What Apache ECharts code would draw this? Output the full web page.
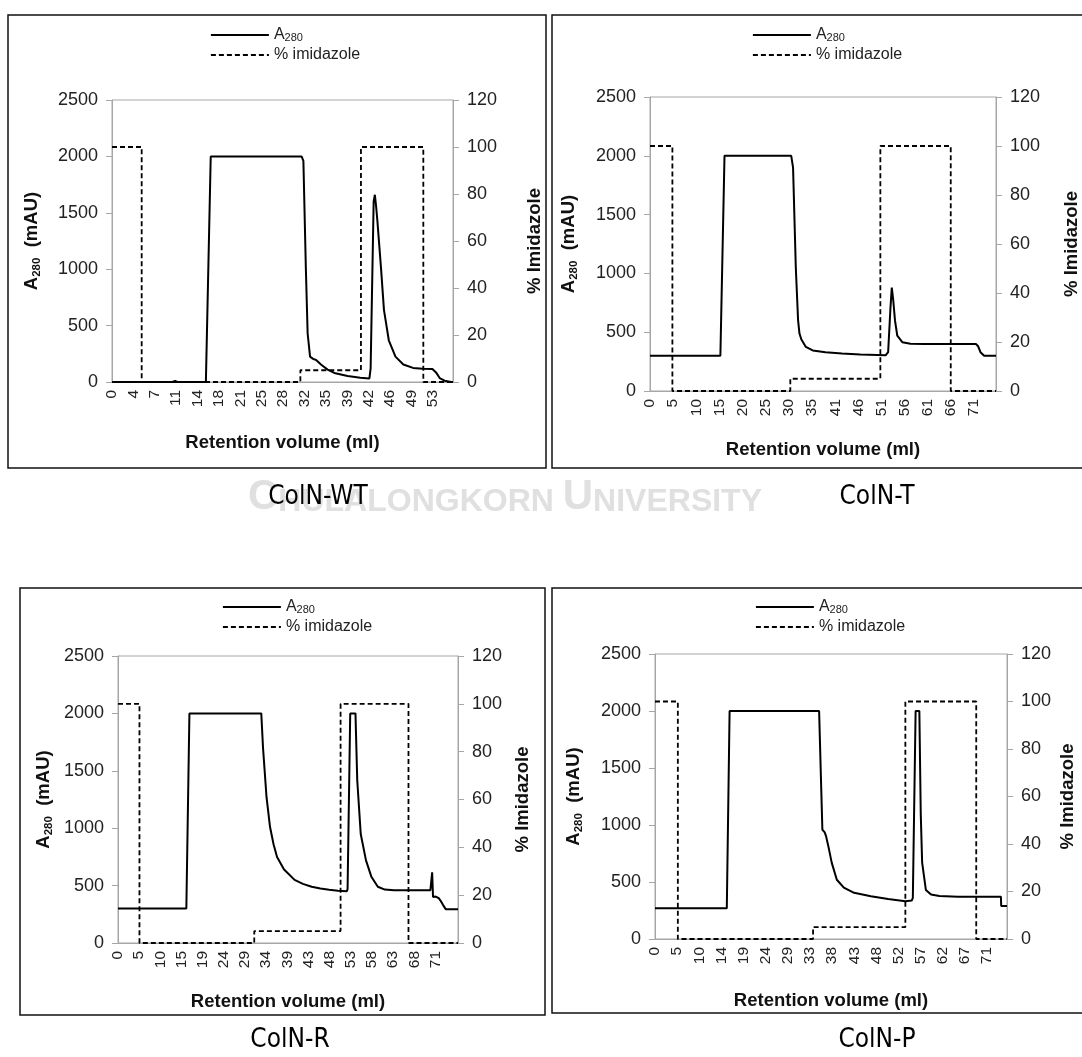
<!DOCTYPE html>
<html>
<head>
<meta charset="utf-8">
<script src="https://cdn.jsdelivr.net/npm/echarts@6/dist/echarts.min.js"></script>
<style>
html, body { margin: 0; padding: 0; background: #fff; }
#chart { width: 1082px; height: 1057px; }
</style>
</head>
<body>
<div id="chart"></div>
<script>
// panel captions
const panelNames = ['ColN-WT', 'ColN-T', 'ColN-R', 'ColN-P'];

// x tick labels as printed (evenly spaced category labels)
const ticksWT = ['0','4','7','11','14','18','21','25','28','32','35','39','42','46','49','53'];
const ticksT  = ['0','5','10','15','20','25','30','35','41','46','51','56','61','66','71'];
const ticksR  = ['0','5','10','15','19','24','29','34','39','43','48','53','58','63','68','71'];
const ticksP  = ['0','5','10','14','19','24','29','33','38','43','48','52','57','62','67','71'];

// A280 traces, [ml, mAU]
const a280WT = [[0,0],[10,0],[10.4,10],[10.8,0],[15.5,0],[16.3,2000],[31.3,2000],[31.6,1960],[32.0,1020],
  [32.3,430],[32.7,225],[33.2,205],[33.7,195],[34.5,155],[35.6,110],[36.7,80],[38.9,53],[41.0,38],[42.5,32],
  [42.7,120],[43.2,1600],[43.4,1660],[43.6,1560],[43.8,1440],[44.4,1020],[44.9,640],[45.7,370],[46.8,225],
  [48.1,155],[49.7,125],[51.3,118],[52.9,115],[53.5,85],[54.1,35],[54.9,12],[56.0,0],[56.3,0]];
const a280T = [[0,300],[15.4,300],[16.3,2000],[30.9,2000],[31.3,1900],[31.9,1050],[32.4,600],[32.7,490],
  [33.1,440],[34.1,375],[35.6,345],[38.4,330],[42,318],[46,310],[51.6,305],[52.1,330],[52.6,700],[52.9,880],
  [53.2,780],[53.6,600],[54.1,470],[55.2,415],[57.0,402],[60,400],[65,400],[71.3,400],[71.8,380],[72.3,330],
  [73.1,300],[75.7,300]];
const a280R = [[0,300],[10.2,300],[10.5,308],[10.8,300],[15.6,300],[16.3,2000],[32.7,2000],[33.1,1700],
  [33.9,1270],[34.7,1010],[35.5,860],[36.3,750],[37.9,640],[40.3,550],[42.2,515],[44.2,490],[46.2,475],
  [48.2,463],[50.2,455],[52.2,450],[52.4,470],[53.0,2000],[54.2,2000],[54.6,1420],[55.4,950],[56.6,720],
  [57.8,580],[59.3,490],[60.9,465],[63,460],[66,460],[71.3,460],[71.5,470],[71.7,615],[71.9,400],[72.5,405],
  [73.2,390],[73.6,370],[74.2,330],[74.8,295],[77.6,295]];
const a280P = [[0,270],[15.4,270],[16.0,2000],[35.2,2000],[35.6,1400],[35.9,960],[36.4,935],[36.7,900],
  [37.2,810],[37.9,670],[39.0,520],[40.5,450],[42.7,405],[46.3,375],[50.0,350],[53.7,332],[55.1,338],
  [55.3,360],[55.9,2000],[56.7,2000],[57.0,1100],[57.3,670],[58.1,430],[59.2,390],[61.0,378],[65,370],
  [74.2,370],[74.25,290],[75.5,290]];

// % imidazole step gradient, [ml, %]
const imidWT = [[0,100],[4.9,100],[4.9,0],[31.1,0],[31.1,5],[41.1,5],[41.1,100],[51.4,100],[51.4,0],[56.3,0]];
const imidT  = [[0,100],[4.9,100],[4.9,0],[30.7,0],[30.7,5],[50.4,5],[50.4,100],[65.8,100],[65.8,0],[75.7,0]];
const imidR  = [[0,100],[4.9,100],[4.9,0],[31.1,0],[31.1,5],[50.8,5],[50.8,100],[66.3,100],[66.3,0],[77.6,0]];
const imidP  = [[0,100],[4.9,100],[4.9,0],[33.9,0],[33.9,5],[53.7,5],[53.7,100],[68.9,100],[68.9,0],[75.5,0]];

const ticks = [ticksWT, ticksT, ticksR, ticksP];
const a280 = [a280WT, a280T, a280R, a280P];
const imid = [imidWT, imidT, imidR, imidP];

// layout of each panel (pixels)
const layout = [
  { box: [8, 15, 538, 453],   grid: [112, 100, 341, 282], xMax: 56.3, step: 53 / 15, legend: [210, 26],  xGap: 51, yGap: 69, ryGap: 72, label: [318, 497] },
  { box: [552, 15, 540, 453], grid: [650, 97, 353, 294],  xMax: 75.7, step: 5.066,   legend: [752, 26],  xGap: 49, yGap: 70, ryGap: 66, label: [877, 497] },
  { box: [20, 588, 525, 427], grid: [118, 656, 340, 287], xMax: 77.6, step: 4.83,    legend: [222, 598], xGap: 49, yGap: 63, ryGap: 55, label: [290, 1040] },
  { box: [552, 588, 540, 425], grid: [655, 654, 352, 285], xMax: 75.5, step: 4.75,   legend: [755, 598], xGap: 52, yGap: 70, ryGap: 51, label: [877, 1040] }
];

const FONT = "'Liberation Sans', Arial, sans-serif";
const AXIS_GREY = '#a6a6a6';

function tickFormatter(labels, step) {
  return function (v) {
    const i = Math.round(v / step);
    return Math.abs(v / step - i) < 1e-3 && labels[i] !== undefined ? labels[i] : '';
  };
}

const grids = [], xAxes = [], yAxes = [], series = [], legends = [], graphics = [];

layout.forEach(function (p, i) {
  grids.push({ left: p.grid[0], top: p.grid[1], width: p.grid[2], height: p.grid[3],
    show: true, borderColor: AXIS_GREY, borderWidth: 1 });

  xAxes.push({
    type: 'value', gridIndex: i, min: 0, max: p.xMax, interval: p.step,
    name: 'Retention volume (ml)', nameLocation: 'middle', nameGap: p.xGap,
    nameTextStyle: { fontFamily: FONT, fontWeight: 'bold', fontSize: 18.5, color: '#111' },
    axisLine: { lineStyle: { color: AXIS_GREY } },
    axisTick: { show: false },
    splitLine: { show: false },
    axisLabel: { rotate: 90, fontFamily: FONT, fontSize: 15.5, color: '#222', margin: 8,
      showMaxLabel: true, formatter: tickFormatter(ticks[i], p.step) }
  });

  yAxes.push({
    type: 'value', gridIndex: i, position: 'left', min: 0, max: 2500, interval: 500,
    name: '{a|A}{s|280}{a|  (mAU)}', nameLocation: 'middle', nameGap: p.yGap, nameRotate: 90,
    nameTextStyle: { rich: {
      a: { fontFamily: FONT, fontWeight: 'bold', fontSize: 18.5, color: '#111', lineHeight: 22 },
      s: { fontFamily: FONT, fontWeight: 'bold', fontSize: 11.5, color: '#111', lineHeight: 22, verticalAlign: 'bottom', padding: [7, 0, 0, 0] }
    } },
    axisLine: { show: true, lineStyle: { color: AXIS_GREY } },
    axisTick: { show: true, length: 6, lineStyle: { color: AXIS_GREY } },
    splitLine: { show: false },
    axisLabel: { fontFamily: FONT, fontSize: 18, color: '#222', margin: 14, formatter: function (v) { return String(v); } }
  });

  yAxes.push({
    type: 'value', gridIndex: i, position: 'right', min: 0, max: 120, interval: 20,
    name: '% Imidazole', nameLocation: 'middle', nameGap: p.ryGap, nameRotate: 90,
    nameTextStyle: { fontFamily: FONT, fontWeight: 'bold', fontSize: 18.5, color: '#111' },
    axisLine: { show: true, lineStyle: { color: AXIS_GREY } },
    axisTick: { show: true, length: 6, lineStyle: { color: AXIS_GREY } },
    splitLine: { show: false },
    axisLabel: { fontFamily: FONT, fontSize: 18, color: '#222', margin: 14, formatter: function (v) { return String(v); } }
  });

  const nameA = 'A280' + '\u200b'.repeat(i);
  const nameI = '% imidazole' + '\u200b'.repeat(i);

  series.push({
    name: nameA, type: 'line', xAxisIndex: i, yAxisIndex: 2 * i, data: a280[i],
    symbol: 'none', lineStyle: { color: '#000', width: 2 }, itemStyle: { color: '#000' }, z: 3
  });
  series.push({
    name: nameI, type: 'line', xAxisIndex: i, yAxisIndex: 2 * i + 1, data: imid[i],
    symbol: 'none', lineStyle: { color: '#000', width: 1.8, type: [5, 3] }, itemStyle: { color: '#000' }, z: 2
  });

  legends.push({
    data: [nameA, nameI], orient: 'vertical', left: p.legend[0], top: p.legend[1],
    itemWidth: 58, itemHeight: 12, itemGap: 4, padding: 0,
    itemStyle: { opacity: 0 },
    lineStyle: { width: 1.8 },
    formatter: function (n) { return n.indexOf('A280') === 0 ? '{t|A}{s|280}' : n.replace(/\u200b/g, ''); },
    textStyle: { fontFamily: FONT, fontSize: 16, color: '#222',
      rich: { t: { fontFamily: FONT, fontSize: 16, color: '#222', lineHeight: 16 },
              s: { fontFamily: FONT, fontSize: 11, color: '#222', lineHeight: 16, verticalAlign: 'bottom', padding: [6, 0, 0, 0] } } }
  });

  graphics.push({ type: 'rect', shape: { x: p.box[0], y: p.box[1], width: p.box[2], height: p.box[3] },
    style: { fill: 'none', stroke: '#111', lineWidth: 1.5 }, z: 10, silent: true });
  graphics.push({ type: 'text', x: p.label[0], y: p.label[1], z: 11, silent: true,
    style: { text: panelNames[i], fill: '#000', font: "26px 'Liberation Sans Narrow', 'DejaVu Sans Condensed', 'Noto Sans', sans-serif",
      textAlign: 'center', textVerticalAlign: 'middle' } });
});

// faint watermark text behind the captions
graphics.unshift({ type: 'text', x: 505, y: 497, z: 0, silent: true,
  style: { text: '{b|C}{m|HULALONGKORN }{b|U}{m|NIVERSITY}', textAlign: 'center', textVerticalAlign: 'middle',
    rich: { b: { fontFamily: FONT, fontWeight: 'bold', fontSize: 42, fill: '#e0e0e0', verticalAlign: 'bottom' },
            m: { fontFamily: FONT, fontWeight: 'bold', fontSize: 32, fill: '#e0e0e0', verticalAlign: 'bottom' } } } });

const chart = echarts.init(document.getElementById('chart'), null, { renderer: 'canvas' });
chart.setOption({
  animation: false,
  backgroundColor: '#fff',
  grid: grids,
  xAxis: xAxes,
  yAxis: yAxes,
  legend: legends,
  series: series,
  graphic: graphics
});
</script>
</body>
</html>
